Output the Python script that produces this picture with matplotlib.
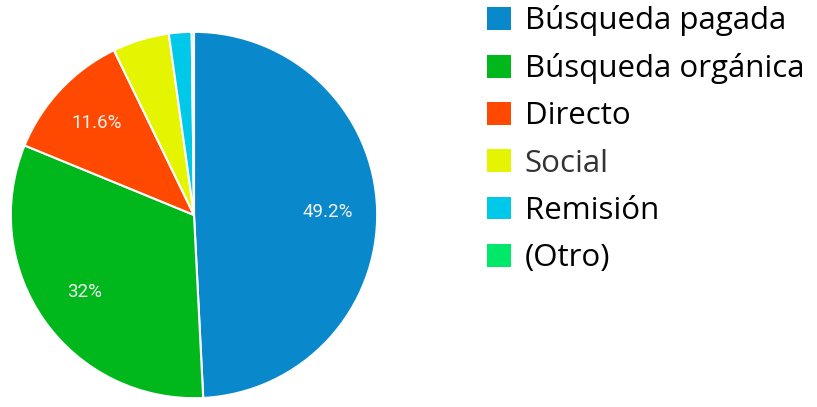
import matplotlib.pyplot as plt
from matplotlib.patches import Patch

# traffic sources
labels = ['Búsqueda pagada', 'Búsqueda orgánica', 'Directo', 'Social', 'Remisión', '(Otro)']
values = [49.2, 32.0, 11.6, 5.0, 2.0, 0.2]
colors = ['#0a88cc', '#00b81b', '#ff4800', '#e5f400', '#00c8e8', '#00e86a']

fig = plt.figure(figsize=(8.17, 4.07), dpi=100)
W, H = 817, 407

# pie axes placed in pixel terms
ax = fig.add_axes([9 / W, (H - 400) / H, 370 / W, 370 / H])

def pct(p):
    return ('%g%%' % round(p, 1)) if p > 10 else ''

wedges, texts, autotexts = ax.pie(
    values, colors=colors, startangle=90, counterclock=False,
    autopct=pct, pctdistance=0.73,
    wedgeprops=dict(edgecolor='white', linewidth=1.5))
for t in autotexts:
    t.set_color('#f2f2f2')
    t.set_fontsize(13.5)
    t.set_family('Roboto')
ax.set_xlim(-1.01, 1.01)
ax.set_ylim(-1.01, 1.01)
ax.set_aspect('equal')

handles = [Patch(facecolor=c, edgecolor='none') for c in colors]
leg = fig.legend(handles, labels, loc='upper left',
                 bbox_to_anchor=(484 / W, 1 - 2 / H),
                 frameon=False, prop={'family': 'Open Sans', 'size': 22.5},
                 handlelength=0.75, handleheight=0.75, handletextpad=0.45,
                 labelspacing=0.55, borderaxespad=0, borderpad=0.1)
leg.get_texts()[3].set_color('#333333')

plt.savefig('out.png', dpi=100)
